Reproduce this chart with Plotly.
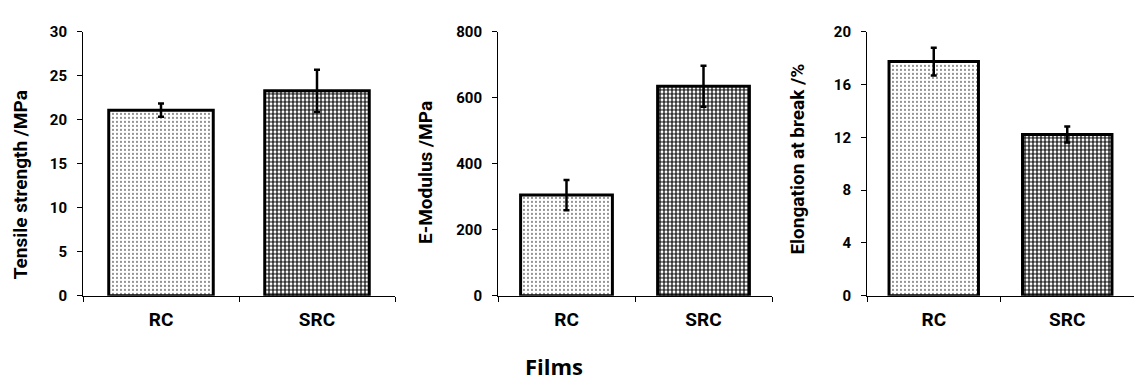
import plotly.graph_objects as go

categories = ["RC", "SRC"]
tensile = [21.1, 23.3]
tensile_err = [0.75, 2.4]
modulus = [305, 635]
modulus_err = [46, 62]
elong = [17.75, 12.22]
elong_err = [1.05, 0.6]

y_titles = ["Tensile strength /MPa", "E-Modulus /MPa", "Elongation at break /%"]
y_ranges = [[0, 30], [0, 800], [0, 20]]
y_dticks = [5, 200, 4]

W, H = 1134, 385
x_doms = [(83, 395), (498, 772), (867, 1134)]
y_dom = [1 - 300.7 / H, 1 - 24 / H]
title_x = [20, 426, 798]
title_y = [185, 172, 158]

FONT = "Roboto, Liberation Sans, sans-serif"

fig = go.Figure()
series = [(tensile, tensile_err), (modulus, modulus_err), (elong, elong_err)]
patterns = [
    dict(shape=".", size=4, solidity=0.12, fgcolor="black", bgcolor="white", fgopacity=1, fillmode="overlay"),
    dict(shape="+", size=4, solidity=0.5, fgcolor="black", bgcolor="white", fgopacity=1, fillmode="overlay"),
]

for i, (vals, errs) in enumerate(series):
    xa = "x" if i == 0 else f"x{i+1}"
    ya = "y" if i == 0 else f"y{i+1}"
    for j in range(2):
        fig.add_trace(go.Bar(
            x=[categories[j]], y=[vals[j]], xaxis=xa, yaxis=ya, width=0.67,
            marker=dict(color="white", line=dict(color="black", width=3), pattern=patterns[j]),
            error_y=dict(type="data", array=[errs[j]], color="black", thickness=2.5, width=3),
            showlegend=False,
        ))
    k = "" if i == 0 else str(i + 1)
    fig.layout[f"xaxis{k}"] = dict(
        domain=[x_doms[i][0] / W, x_doms[i][1] / W], anchor=ya,
        categoryorder="array", categoryarray=categories,
        range=[-0.5, 1.5], showline=True, linecolor="black", linewidth=1,
        ticks="outside", tickson="boundaries", ticklen=5, tickcolor="black",
        tickfont=dict(family=FONT, size=19, color="black", weight="bold"),
        ticklabelstandoff=7, showgrid=False, zeroline=False,
    )
    fig.layout[f"yaxis{k}"] = dict(
        domain=y_dom, anchor=xa, range=y_ranges[i], dtick=y_dticks[i],
        showline=True, linecolor="black", linewidth=1,
        ticks="outside", ticklen=5, tickcolor="black",
        tickfont=dict(family=FONT, size=15, color="black", weight="bold"),
        ticklabelstandoff=7, showgrid=False, zeroline=False,
    )
    fig.add_annotation(
        text=y_titles[i], xref="paper", yref="paper", x=title_x[i] / W, y=1 - title_y[i] / H,
        textangle=-90, showarrow=False, xanchor="center", yanchor="middle",
        font=dict(family=FONT, size=19, color="black", weight="bold"),
    )

fig.add_annotation(
    text="Films", xref="paper", yref="paper", x=554 / W, y=1 - 374 / H,
    showarrow=False, xanchor="center", yanchor="middle",
    font=dict(family="Open Sans, Lato, sans-serif", size=22, color="black", weight="bold"),
)

fig.update_layout(
    width=W, height=H, margin=dict(l=0, r=0, t=0, b=0),
    paper_bgcolor="white", plot_bgcolor="white", bargap=0.33,
)

fig.write_html("out.html")
